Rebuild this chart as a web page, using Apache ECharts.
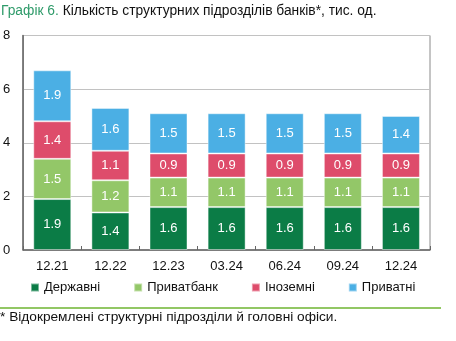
<!DOCTYPE html>
<html><head><meta charset="utf-8">
<script src="https://cdn.jsdelivr.net/npm/echarts@6/dist/echarts.min.js"></script>
<style>html,body{margin:0;padding:0;background:#fff;}#c{width:456px;height:341px;}</style>
</head><body><div id="c"></div>
<script>
const categories = ['12.21','12.22','12.23','03.24','06.24','09.24','12.24'];
const derzhavni = [1.9, 1.4, 1.6, 1.6, 1.6, 1.6, 1.6];
const pryvatbank = [1.5, 1.2, 1.1, 1.1, 1.1, 1.1, 1.1];
const inozemni = [1.4, 1.1, 0.9, 0.9, 0.9, 0.9, 0.9];
const pryvatni = [1.9, 1.6, 1.5, 1.5, 1.5, 1.5, 1.4];
const totals = [6.7, 5.3, 5.1, 5.1, 5.1, 5.1, 5.0];
const yTicks = [0, 2, 4, 6, 8];

const FONT = '"Liberation Sans", Arial, sans-serif';
const colors = ['#0B7C46', '#93C768', '#DE4C6B', '#4BAFE4'];
const names = ['Державні', 'Приватбанк', 'Іноземні', 'Приватні'];
const datasets = [derzhavni, pryvatbank, inozemni, pryvatni];

const chart = echarts.init(document.getElementById('c'), null, {renderer: 'canvas'});
const barSeries = datasets.map((d, i) => ({
  name: names[i], type: 'bar', stack: 'total', data: d, barWidth: 38,
  itemStyle: {color: colors[i], borderColor: 'rgba(255,255,255,0.45)', borderWidth: 1},
  label: {show: true, position: 'inside', color: '#fff', fontFamily: FONT, fontSize: 13,
    formatter: p => p.value.toFixed(1)},
  emphasis: {disabled: true}
}));
barSeries.push({
  name: 'total', type: 'line', data: totals, symbol: 'none', silent: true,
  lineStyle: {opacity: 0}, z: 10,
  label: {show: true, position: 'top', distance: 5, color: '#000', fontFamily: FONT, fontSize: 13,
    formatter: p => p.value.toFixed(1)}
});

chart.setOption({
  animation: false,
  textStyle: {fontFamily: FONT},
  grid: {left: 23, right: 26, top: 35.5, bottom: 91, show: true, borderColor: '#8a8a8a', borderWidth: 1, containLabel: false},
  title: {
    text: '{g|Графік 6.} Кількість структурних підрозділів банків*, тис. од.',
    left: 1, top: 4, padding: 0,
    textStyle: {fontFamily: FONT, fontSize: 13.8, fontWeight: 'normal', color: '#111',
      rich: {g: {color: '#2F9B6A', fontFamily: FONT, fontSize: 13.8}}}
  },
  legend: {
    data: names, left: 30, top: 281, padding: 0, itemWidth: 8, itemHeight: 8, itemGap: 33, icon: 'rect',
    textStyle: {fontFamily: FONT, fontSize: 13, color: '#111'}
  },
  xAxis: {
    type: 'category', data: categories,
    axisLine: {lineStyle: {color: '#666', width: 1.5}},
    axisTick: {show: true, inside: true, length: 4, lineStyle: {color: '#666'}},
    axisLabel: {color: '#111', fontSize: 13, fontFamily: FONT, margin: 10}
  },
  yAxis: {
    type: 'value', min: yTicks[0], max: yTicks[yTicks.length - 1], interval: 2,
    axisLine: {show: true, lineStyle: {color: '#666', width: 1.5}},
    axisTick: {show: false},
    axisLabel: {color: '#111', fontSize: 13, fontFamily: FONT, margin: 13},
    splitLine: {lineStyle: {color: '#c2c2c2', width: 1}}
  },
  graphic: [
    {type: 'line', shape: {x1: 0, y1: 308, x2: 441, y2: 308}, style: {stroke: '#92C764', lineWidth: 2}},
    {type: 'text', left: 0, top: 310, style: {text: '* Відокремлені структурні підрозділи й головні офіси.', font: '13.7px ' + FONT, fill: '#111'}}
  ],
  series: barSeries
});
</script></body></html>
